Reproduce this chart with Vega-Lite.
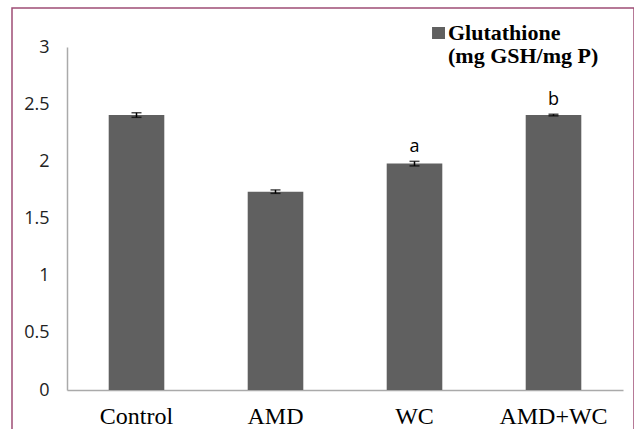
{
  "$schema": "https://vega.github.io/schema/vega-lite/v6.json",
  "width": 622,
  "height": 430,
  "autosize": "none",
  "padding": {"left": 12, "top": 8, "right": 0, "bottom": 0},
  "background": "white",
  "config": {"view": {"stroke": "#9e4d76", "strokeWidth": 1.5}},
  "data": {"values": [
    {"group": "Control", "value": 2.405, "lo": 2.385, "hi": 2.425, "sig": ""},
    {"group": "AMD", "value": 1.735, "lo": 1.72, "hi": 1.75, "sig": ""},
    {"group": "WC", "value": 1.98, "lo": 1.96, "hi": 2.0, "sig": "a"},
    {"group": "AMD+WC", "value": 2.405, "lo": 2.398, "hi": 2.412, "sig": "b"}
  ]},
  "encoding": {
    "x": {
      "field": "group", "type": "nominal", "sort": null,
      "scale": {"range": [55, 611], "paddingInner": 0.6, "paddingOuter": 0.3},
      "axis": {"title": null, "ticks": false, "offset": -48, "domainColor": "#aaaaaa", "domainWidth": 1.5,
               "labelFont": "Liberation Serif", "labelFontSize": 24, "labelColor": "black", "labelPadding": 14, "labelAngle": 0}
    }
  },
  "layer": [
    {
      "mark": {"type": "bar"},
      "encoding": {
        "y": {"field": "value", "type": "quantitative",
              "scale": {"domain": [0, 3], "range": [382, 39], "nice": false, "zero": true},
              "axis": {"values": [0, 0.5, 1, 1.5, 2, 2.5, 3], "format": ".1~f", "title": null, "ticks": false, "grid": false,
                       "offset": -55, "domainColor": "#aaaaaa", "domainWidth": 1.5,
                       "labelFont": "Open Sans", "labelFontSize": 18, "labelColor": "#222222", "labelPadding": 18}},
        "color": {"datum": "Glutathione", "type": "nominal",
                  "scale": {"range": ["#606060"]},
                  "legend": {"orient": "none", "legendX": 412, "legendY": 14, "title": null, "padding": 0,
                             "symbolType": "M-0.27,-0.545H0.91V0.545H-0.27Z", "symbolSize": 484, "symbolStrokeWidth": 0,
                             "symbolFillColor": "#606060", "labelOffset": 2,
                             "labelExpr": "['Glutathione', '(mg GSH/mg P)']",
                             "labelFont": "Liberation Serif", "labelFontWeight": "bold", "labelFontSize": 22,
                             "labelColor": "black", "labelBaseline": "middle", "labelLimit": 300,
                             "encode": {"labels": {"update": {"lineHeight": {"value": 23}}}}}}
      }
    },
    {
      "mark": {"type": "errorbar", "color": "black", "thickness": 1.5, "ticks": {"size": 10, "color": "black", "thickness": 1.5}},
      "encoding": {
        "y": {"field": "lo", "type": "quantitative"},
        "y2": {"field": "hi"}
      }
    },
    {
      "mark": {"type": "text", "dy": -9, "baseline": "alphabetic", "font": "Open Sans", "fontSize": 18, "color": "black"},
      "encoding": {
        "y": {"field": "hi", "type": "quantitative"},
        "text": {"field": "sig"}
      }
    }
  ]
}
